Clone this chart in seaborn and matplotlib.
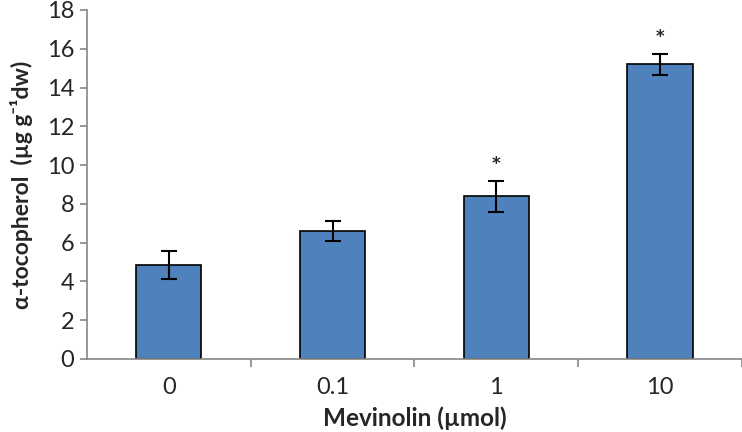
import matplotlib
matplotlib.use("Agg")
import matplotlib.pyplot as plt
import seaborn as sns
import pandas as pd
from matplotlib.ticker import FixedLocator

# data
doses = ["0", "0.1", "1", "10"]
tocopherol = [4.85, 6.6, 8.4, 15.2]
err = [0.72, 0.5, 0.8, 0.55]
signif = ["", "", "*", "*"]

df = pd.DataFrame({"dose": doses, "value": tocopherol})

sns.set_style("white")
plt.rcParams["font.family"] = ["Lato", "DejaVu Sans"]

fig = plt.figure(figsize=(7.42, 4.32), dpi=100)
ax = fig.add_axes([0.117, 0.169, 0.883, 0.808])

sns.barplot(data=df, x="dose", y="value", color="#4F81BD", width=0.4,
            edgecolor="black", linewidth=1.2, saturation=1, errorbar=None, ax=ax)

# error bars and significance marks on top of each bar
for bar, e, s in zip(ax.patches, err, signif):
    cx = bar.get_x() + bar.get_width() / 2
    h = bar.get_height()
    ax.errorbar(cx, h, yerr=e, fmt="none", ecolor="black", elinewidth=1.5,
                capsize=6, capthick=1.5)
    if s:
        ax.text(cx, h + e + 0.85, s, ha="center", va="center", fontsize=12,
                fontweight="bold", family="DejaVu Sans")

ax.set_ylim(0, 18)
ax.set_xlim(-0.5, 3.5)
ax.set_yticks(range(0, 19, 2))
ax.tick_params(axis="y", labelsize=17, length=5, width=1.2, color="#868686",
               left=True, direction="out", pad=4)
ax.tick_params(axis="x", which="major", labelsize=17, length=0, pad=13)
ax.xaxis.set_minor_locator(FixedLocator([0.5, 1.5, 2.5, 3.5]))
ax.tick_params(axis="x", which="minor", length=6, width=1.2, color="#868686",
               bottom=True, direction="out")

for side in ["top", "right"]:
    ax.spines[side].set_visible(False)
for side in ["left", "bottom"]:
    ax.spines[side].set_color("#868686")
    ax.spines[side].set_linewidth(1.2)

ax.set_xlabel("Mevinolin (µmol)", fontsize=17.5, fontweight="bold", labelpad=6)
ax.set_ylabel("α-tocopherol  (µg g⁻¹dw)", fontsize=16.5, fontweight="bold",
              labelpad=10)

fig.savefig("out.png", dpi=100)
